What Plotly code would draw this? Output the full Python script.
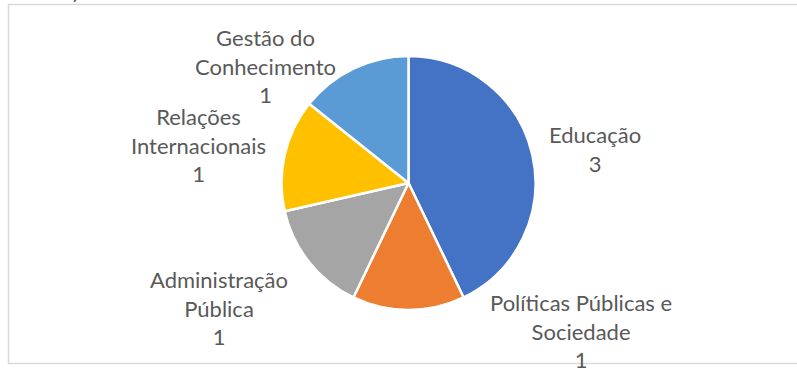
import plotly.graph_objects as go

# ---- data ----
labels = ["Educação", "Políticas Públicas e Sociedade", "Administração Pública",
          "Relações Internacionais", "Gestão do Conhecimento"]
values = [3, 1, 1, 1, 1]
label_lines = [["Educação"], ["Políticas Públicas e", "Sociedade"], ["Administração", "Pública"],
               ["Relações", "Internacionais"], ["Gestão do", "Conhecimento"]]
colors = ["#4472C4", "#ED7D31", "#A5A5A5", "#FFC000", "#5B9BD5"]

# ---- layout (pixels) ----
W, H = 797, 369
cx, cy, r = 408.5, 183, 127
label_pos = [(595, 149), (581, 331), (219, 308), (198, 145), (265, 66)]

fig = go.Figure(go.Pie(
    labels=labels, values=values, sort=False, direction="clockwise", rotation=0,
    marker=dict(colors=colors, line=dict(color="white", width=2.5)),
    textinfo="none", hoverinfo="label+value", showlegend=False,
    domain=dict(x=[(cx - r) / W, (cx + r) / W], y=[(H - cy - r) / H, (H - cy + r) / H]),
))

font = dict(family="Lato, 'Open Sans', sans-serif", size=22, color="#595959")
for lines, v, (px, py) in zip(label_lines, values, label_pos):
    fig.add_annotation(text="<br>".join(lines + [str(v)]), x=px / W, y=1 - py / H,
                       xref="paper", yref="paper", xanchor="center", yanchor="middle",
                       showarrow=False, font=font)

# cut-off text at the top
fig.add_annotation(text=")", x=76 / W, y=1 + 9 / H, xref="paper", yref="paper",
                   xanchor="center", yanchor="middle", showarrow=False, font=font)

# chart frame
fig.add_shape(type="rect", xref="paper", yref="paper",
              x0=8.5 / W, x1=1.02, y0=1 - 363.5 / H, y1=1 - 4.5 / H,
              line=dict(color="#D9D9D9", width=1.5), layer="below")

fig.update_layout(width=W, height=H, margin=dict(l=0, r=0, t=0, b=0),
                  paper_bgcolor="white", plot_bgcolor="white")
fig.write_html("out.html")
